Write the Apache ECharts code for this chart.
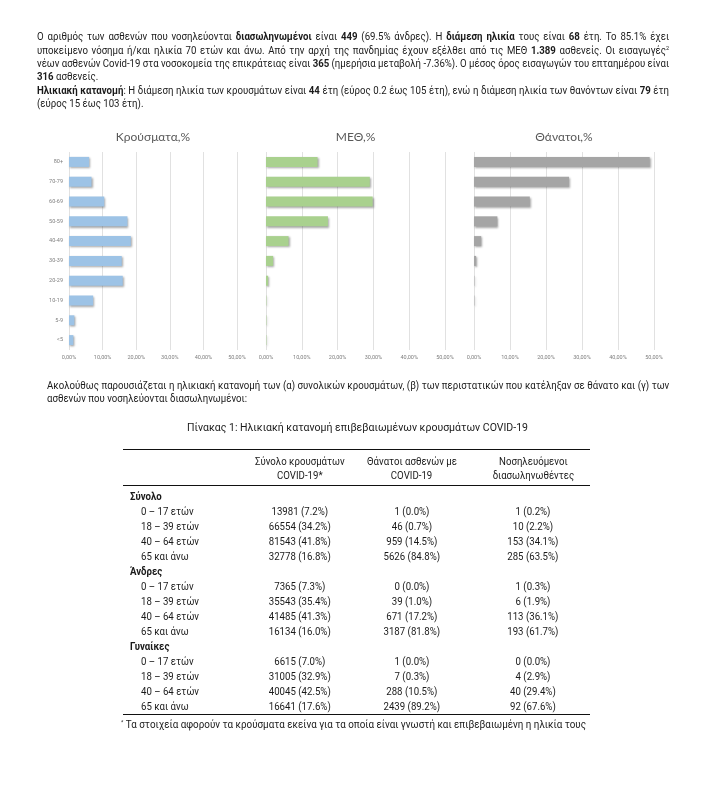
<!DOCTYPE html>
<html><head><meta charset="utf-8">
<script src="https://cdn.jsdelivr.net/npm/echarts/dist/echarts.min.js"></script>
<style>
html,body{margin:0;padding:0;background:#fff;}
#page{position:relative;width:707px;height:810px;overflow:hidden;font-family:Roboto,"Noto Sans",sans-serif;color:#1a1a1a;}
#chart{position:absolute;left:0;top:0;width:707px;height:810px;}
.ln{position:absolute;white-space:nowrap;font-size:10.5px;line-height:14px;height:14px;}
.ln span.in{display:inline-block;transform-origin:0 50%;}
.ctr span.in{transform-origin:50% 50%;}
b{font-weight:700;}
sup{font-size:6px;vertical-align:top;line-height:8px;}
.rule{position:absolute;height:0;border-top:1.6px solid #111;}
</style></head>
<body><div id="page"><div id="chart"></div><div id="txt"></div></div>
<script>
// ---------- chart data ----------
const categories = ['80+','70-79','60-69','50-59','40-49','30-39','20-29','10-19','5-9','<5'];
const casesPct  = [6.0, 6.7, 10.5, 17.4, 18.4, 15.7, 16.0, 7.2, 1.6, 1.3];
const icuPct    = [14.4, 29.0, 29.8, 17.3, 6.3, 2.0, 0.6, 0.1, 0.1, 0.1];
const deathsPct = [48.8, 26.4, 15.5, 6.5, 2.0, 0.6, 0.1, 0.1, 0.0, 0.0];
const xTicks = [0, 10, 20, 30, 40, 50];
const chartTitles = ['Κρούσματα,%', 'ΜΕΘ,%', 'Θάνατοι,%'];

// ---------- table data ----------
const ageGroups = ['0 – 17 ετών', '18 – 39 ετών', '40 – 64 ετών', '65 και άνω'];
const tableHeads = [['Σύνολο κρουσμάτων', 'COVID-19*'], ['Θάνατοι ασθενών με', 'COVID-19'], ['Νοσηλευόμενοι', 'διασωληνωθέντες']];
const groupNames = ['Σύνολο', 'Άνδρες', 'Γυναίκες'];
const totalCasesN  = [13981, 66554, 81543, 32778];
const totalCasesP  = [7.2, 34.2, 41.8, 16.8];
const totalDeathsN = [1, 46, 959, 5626];
const totalDeathsP = [0.0, 0.7, 14.5, 84.8];
const totalIcuN    = [1, 10, 153, 285];
const totalIcuP    = [0.2, 2.2, 34.1, 63.5];
const menCasesN  = [7365, 35543, 41485, 16134];
const menCasesP  = [7.3, 35.4, 41.3, 16.0];
const menDeathsN = [0, 39, 671, 3187];
const menDeathsP = [0.0, 1.0, 17.2, 81.8];
const menIcuN    = [1, 6, 113, 193];
const menIcuP    = [0.3, 1.9, 36.1, 61.7];
const womenCasesN  = [6615, 31005, 40045, 16641];
const womenCasesP  = [7.0, 32.9, 42.5, 17.6];
const womenDeathsN = [1, 7, 288, 2439];
const womenDeathsP = [0.0, 0.3, 10.5, 89.2];
const womenIcuN    = [0, 4, 40, 92];
const womenIcuP    = [0.0, 2.9, 29.4, 67.6];

// ---------- charts ----------
const chart = echarts.init(document.getElementById('chart'), null, {renderer:'canvas'});
const grids = [
  {left:69, top:152, width:168, height:198},
  {left:266, top:152, width:179, height:198},
  {left:474, top:152, width:180, height:198}
];
const seriesData = [casesPct, icuPct, deathsPct];
const colors = ['#9dc3e6', '#a9d18e', '#a5a5a5'];
const option = {
  animation:false,
  grid: grids,
  xAxis: grids.map((g,i)=>({
    gridIndex:i, type:'value', min:xTicks[0], max:xTicks[xTicks.length-1], interval:xTicks[1]-xTicks[0],
    axisLine:{show:false}, axisTick:{show:false},
    splitLine:{show:true, lineStyle:{color:'#d9d9d9', width:0.8}},
    axisLabel:{fontSize:5.5, color:'#7f7f7f', margin:5, fontFamily:'Roboto',
      formatter:v=>v.toFixed(2).replace('.', ',')+'%'}
  })),
  yAxis: grids.map((g,i)=>({
    gridIndex:i, type:'category', data:categories, inverse:true,
    axisLine:{show:false}, axisTick:{show:false}, splitLine:{show:false},
    axisLabel:{show:i===0, fontSize:5.5, color:'#7f7f7f', margin:6, fontFamily:'Roboto'}
  })),
  series: seriesData.map((d,i)=>({
    type:'bar', xAxisIndex:i, yAxisIndex:i, data:d, barWidth:10,
    itemStyle:{color:colors[i], shadowColor:'rgba(0,0,0,0.35)', shadowBlur:2, shadowOffsetX:1, shadowOffsetY:1.2}
  })),
  graphic: grids.map((g,i)=>({
    type:'text', x:g.left + g.width/2, y:137,
    style:{text:chartTitles[i], align:'center', verticalAlign:'middle', textAlign:'center', textVerticalAlign:'middle',
      fontSize:12, fontFamily:'Lato', fill:'#595959'}
  }))
};
chart.setOption(option);

// ---------- text ----------
const txt = document.getElementById('txt');
function place(html, x, yc, w, mode, extraCls, fs, weight) {
  const d = document.createElement('div');
  d.className = 'ln' + (extraCls ? ' ' + extraCls : '');
  if (fs) d.style.fontSize = fs + 'px';
  if (weight) d.style.fontWeight = weight;
  d.style.top = (yc - 7) + 'px';
  const s = document.createElement('span'); s.className = 'in'; s.innerHTML = html;
  d.appendChild(s); txt.appendChild(d);
  const nat = s.getBoundingClientRect().width;
  let scale = 1;
  if (mode === 'justify') {
    const spaces = (s.textContent.match(/ /g) || []).length;
    let ws = (w / BODY_SCALE - nat) / spaces;
    scale = BODY_SCALE;
    if (ws < 0) { ws = 0; scale = w / nat; }
    s.style.wordSpacing = ws + 'px';
  } else if (mode === 'fit') {
    scale = w / nat;
  } else if (mode === 'scale') {
    scale = w;
  }
  s.style.transform = 'scaleX(' + scale + ')';
  if (extraCls === 'ctr') {
    d.style.left = (x - nat / 2) + 'px';
  } else {
    d.style.left = x + 'px';
  }
  return nat;
}
function rule(x1, x2, y) {
  const r = document.createElement('div'); r.className = 'rule';
  r.style.left = x1 + 'px'; r.style.width = (x2 - x1) + 'px'; r.style.top = (y - 0.8) + 'px';
  txt.appendChild(r);
}
// calibrate body scale from a left aligned line of known width
let BODY_SCALE = 1;
{
  const probe = document.createElement('span');
  probe.style.cssText = 'position:absolute;visibility:hidden;white-space:nowrap;font-size:10.5px;font-family:Roboto';
  probe.textContent = 'ασθενών που νοσηλεύονται διασωληνωμένοι:';
  document.body.appendChild(probe);
  BODY_SCALE = 200 / probe.getBoundingClientRect().width;
  probe.remove();
}
const L = 37, R = 669;
place('Ο αριθμός των ασθενών που νοσηλεύονται <b>διασωληνωμένοι</b> είναι <b>449</b> (69.5% άνδρες). Η <b>διάμεση ηλικία</b> τους είναι <b>68</b> έτη. Το 85.1% έχει', L, 37, R - L, 'justify');
place('υποκείμενο νόσημα ή/και ηλικία 70 ετών και άνω. Από την αρχή της πανδημίας έχουν εξέλθει από τις ΜΕΘ <b>1.389</b> ασθενείς. Οι εισαγωγές<sup>2</sup>', L, 50.5, R - L, 'justify');
place('νέων ασθενών Covid-19 στα νοσοκομεία της επικράτειας είναι <b>365</b> (ημερήσια μεταβολή -7.36%). Ο μέσος όρος εισαγωγών του επταημέρου είναι', L, 64, R - L, 'justify');
place('<b>316</b> ασθενείς.', L, 77, BODY_SCALE, 'scale');
place('<b>Ηλικιακή κατανομή</b>: Η διάμεση ηλικία των κρουσμάτων είναι <b>44</b> έτη (εύρος 0.2 έως 105 έτη), ενώ η διάμεση ηλικία των θανόντων είναι <b>79</b> έτη', L, 90.5, R - L, 'justify');
place('(εύρος 15 έως 103 έτη).', L, 104, BODY_SCALE, 'scale');

const L2 = 46.7;
place('Ακολούθως παρουσιάζεται η ηλικιακή κατανομή των (α) συνολικών κρουσμάτων, (β) των περιστατικών που κατέληξαν σε θάνατο και (γ) των', L2, 385.7, R - L2, 'justify');
place('ασθενών που νοσηλεύονται διασωληνωμένοι:', L2, 399, BODY_SCALE, 'scale');

place('Πίνακας 1: Ηλικιακή κατανομή επιβεβαιωμένων κρουσμάτων COVID-19', 186.7, 426.7, 341, 'fit', null, 11.5);

// table
const tL = 123, tR = 590;
rule(tL, tR, 449.5);
const colX = [300, 412, 533];
tableHeads.forEach((h, i) => {
  place(h[0], colX[i], 462, BODY_SCALE, 'scale', 'ctr');
  place(h[1], colX[i], 476, BODY_SCALE, 'scale', 'ctr');
});
rule(tL, tR, 485.7);
const groups = [
  [totalCasesN, totalCasesP, totalDeathsN, totalDeathsP, totalIcuN, totalIcuP],
  [menCasesN, menCasesP, menDeathsN, menDeathsP, menIcuN, menIcuP],
  [womenCasesN, womenCasesP, womenDeathsN, womenDeathsP, womenIcuN, womenIcuP]
];
const fmt = (n, p) => n + ' (' + p.toFixed(1) + '%)';
let y = 496.5;
groups.forEach((g, gi) => {
  place('<b>' + groupNames[gi] + '</b>', 130, y, BODY_SCALE, 'scale');
  y += 15;
  ageGroups.forEach((a, ai) => {
    place(a, 141, y, BODY_SCALE, 'scale');
    for (let c = 0; c < 3; c++) {
      place(fmt(g[c * 2][ai], g[c * 2 + 1][ai]), colX[c], y, BODY_SCALE, 'scale', 'ctr');
    }
    y += 15;
  });
});
rule(tL, tR, 715);
place('<sup>*</sup> Τα στοιχεία αφορούν τα κρούσματα εκείνα για τα οποία είναι γνωστή και επιβεβαιωμένη η ηλικία τους', 121, 724.5, 465, 'fit');
</script></body></html>
